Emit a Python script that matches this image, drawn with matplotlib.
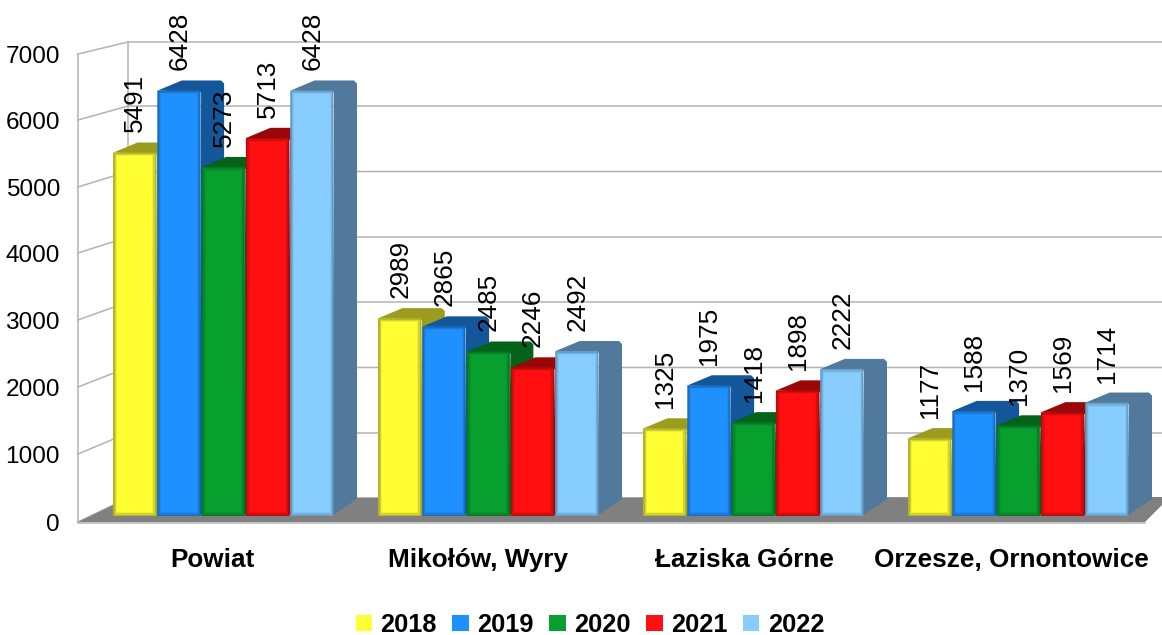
import matplotlib
matplotlib.use("Agg")
import matplotlib.pyplot as plt
from matplotlib.patches import Polygon, FancyBboxPatch, Patch
from matplotlib.colors import to_rgb

plt.rcParams['font.family'] = ['Liberation Sans', 'DejaVu Sans']

categories = ["Powiat", "Mikołów, Wyry", "Łaziska Górne", "Orzesze, Ornontowice"]
years = ["2018", "2019", "2020", "2021", "2022"]
v2018 = [5491, 2989, 1325, 1177]
v2019 = [6428, 2865, 1975, 1588]
v2020 = [5273, 2485, 1418, 1370]
v2021 = [5713, 2246, 1898, 1569]
v2022 = [6428, 2492, 2222, 1714]
series = [v2018, v2019, v2020, v2021, v2022]
face = ["#ffff33", "#1e90ff", "#07a02f", "#ff0f0f", "#87ceff"]
edge = ["#b5b52a", "#1a6cbc", "#067825", "#b50a0a", "#659dc8"]
side = ["#9c9c1f", "#13579a", "#056319", "#990808", "#50799c"]
yticks = [0, 1000, 2000, 3000, 4000, 5000, 6000, 7000]

W, H = 1162, 635
fig = plt.figure(figsize=(W / 100, H / 100), dpi=100)
ax = fig.add_axes([0, 0, 1, 1])
PITCH = 265.0
SY = 0.0662
X0 = 113.0          # left edge of first bar in pixels
Y0 = 516.0          # pixel row of value 0 at bars' front
ax.set_xlim(-X0 / PITCH, (W - X0) / PITCH)
ax.set_ylim(-(H - Y0) / SY, Y0 / SY)
ax.axis("off")
px = 1 / PITCH
py = 1 / SY

def P(xp, yp):
    """pixel position to data position, used for frame geometry only"""
    return ((xp - X0) * px, (Y0 - yp) * py)

def mix(c1, c2, t):
    a, b = to_rgb(c1), to_rgb(c2)
    return tuple(u * (1 - t) + w * t for u, w in zip(a, b))

GRID = "#b3b3b3"
back_y = [498, 433, 367.5, 302, 237, 171.5, 106, 42]
front_y = [522, 454, 387, 320, 253, 187, 120, 54]
for fy, by, t in zip(front_y, back_y, yticks):
    a, b, c = P(78, fy), P(128, by), P(W, by)
    ax.plot([a[0], b[0], c[0]], [a[1], b[1], c[1]], color=GRID, lw=1.1, zorder=1,
            solid_joinstyle="miter")
    ax.text(*P(60, fy + 3), str(t), ha="right", va="center", fontsize=17.6, color="black")
a, b = P(78, 522), P(78, 54)
ax.plot([a[0], b[0]], [a[1], b[1]], color=GRID, lw=1.1, zorder=1)
a, b = P(128, 498), P(128, 42)
ax.plot([a[0], b[0]], [a[1], b[1]], color=GRID, lw=1.1, zorder=1)
a, b = P(78, 523), P(1145, 523)
ax.plot([a[0], b[0]], [a[1], b[1]], color=GRID, lw=1.1, zorder=3)

ax.add_patch(Polygon([P(78, 522), P(128, 498), P(W, 497), P(W, 505), P(1145, 522)],
                     closed=True, fc="#808080", ec="none", zorder=2))

BW = 44.3 * px
DX = 23 * px
DY = 10 * py
zo = 4
for g in range(len(categories)):
    for s, vals in enumerate(series):
        v = vals[g]
        x = g + s * BW - 0.5 * px
        ax.add_patch(Polygon([(x + BW - 2 * px, 0), (x + BW + DX, 17 * py), (x + BW + DX, v + DY - 3 * py),
                              (x + BW + DX - 3 * px, v + DY), (x + DX + 2 * px, v + DY),
                              (x + 1 * px, v), (x + BW, v - 2 * py)],
                             closed=True, fc=side[s], ec="none", zorder=zo))
        zo += 1
        ax.add_patch(FancyBboxPatch((x + 0.5 * px, 0), BW - 1 * px, v,
                                    boxstyle="round,pad=0,rounding_size=0.01",
                                    mutation_aspect=(1 / SY) / PITCH, fc=edge[s], ec="none", zorder=zo))
        zo += 1
        # soft bevel, from the dark rim inward to the flat face
        for inset, t in [(1.5, 0.4), (3.0, 0.8), (4.0, 1.0)]:
            ax.bar(x + BW / 2, v - 2 * inset * py, width=BW - 1 * px - 2 * inset * px,
                   bottom=inset * py, color=mix(edge[s], face[s], t), linewidth=0, zorder=zo)
            zo += 1
        ax.text(x + BW / 2 + 0.5 * px, v + DY + 10 * py, str(v), rotation=90, ha="center", va="bottom",
                fontsize=18.8, color="black", zorder=1000)
    ax.text(*P(X0 + g * 266.3 + 99, 560), categories[g], ha="center", va="center",
            fontsize=18.8, fontweight="bold", color="black")

handles = [Patch(fc=f, ec="none", label=y) for f, y in zip(face, years)]
ax.legend(handles=handles, loc="center", bbox_to_anchor=(590 / W, 1 - 625 / H), ncols=5,
          frameon=False, prop={"size": 18.3, "weight": "bold"}, handlelength=0.64, handleheight=0.64,
          handletextpad=0.33, columnspacing=0.62, borderpad=0, labelspacing=0)

fig.savefig("out.png", dpi=100)
